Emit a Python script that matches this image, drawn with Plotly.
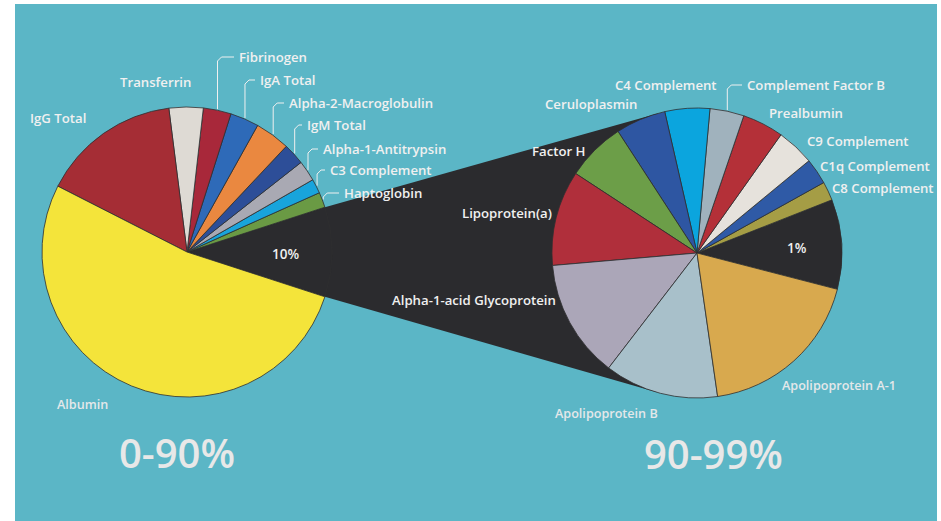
import math
import plotly.graph_objects as go

W, H = 941, 521

# ---- data: share of total serum protein mass (%) ----
# first pie: proteins making up the first 90%, plus the remaining 10%
major_labels = ["Remaining proteins", "Haptoglobin", "C3 Complement", "Alpha-1-Antitrypsin",
                "IgM Total", "Alpha-2-Macroglobulin", "IgA Total", "Fibrinogen",
                "Transferrin", "IgG Total", "Albumin"]
major_values = [10, 1.7, 1.6, 2.3, 2.4, 3.9, 3.2, 3.1, 3.8, 15.5, 52.5]
major_colors = ["#2b2b2e", "#6a9a44", "#18a4dc", "#a9a9b3", "#2d4e98", "#ea8840",
                "#2e6ab8", "#a8283a", "#dedad4", "#a52d35", "#f4e43a"]

# second pie: the next 9% (90-99%), plus the last 1%
minor_labels = ["Remaining proteins", "C8 Complement", "C1q Complement", "C9 Complement",
                "Prealbumin", "Complement Factor B", "C4 Complement", "Ceruloplasmin",
                "Factor H", "Lipoprotein(a)", "Alpha-1-acid Glycoprotein",
                "Apolipoprotein B", "Apolipoprotein A-1"]
minor_values = [1.0, 0.21, 0.29, 0.42, 0.46, 0.38, 0.5, 0.56, 0.66, 1.06, 1.32, 1.27, 1.87]
minor_colors = ["#2b2b2e", "#a59d45", "#2f5aa6", "#e6e2dc", "#b43038", "#a0b2bd",
                "#0ba5de", "#2e56a2", "#6c9e48", "#b02f3b", "#aba6b8", "#a8c0ca", "#d8a94e"]

pie_titles = ["0-90%", "90-99%"]

# ---- layout geometry (pixels, y downwards) ----
R = 145
LEFT_C = (187, 252)
RIGHT_C = (697, 253)
LEFT_REST_DIR = 0.0     # direction (deg, counterclockwise from 3 o'clock) of the remainder slice
RIGHT_REST_DIR = 3.5

TEAL = "#5bb6c6"
TEXT = "#f0f0f0"
FONT = "Open Sans"

# label anchors: (left x, centre y, with leader line, bold)
label_pos = {
    "IgG Total": (28, 118, False, True),
    "Transferrin": (118, 82, False, True),
    "Fibrinogen": (237, 57, True, True),
    "IgA Total": (258, 80, True, True),
    "Alpha-2-Macroglobulin": (287, 103, True, True),
    "IgM Total": (305, 125, True, True),
    "Alpha-1-Antitrypsin": (321, 149, True, True),
    "C3 Complement": (328, 170, True, True),
    "Haptoglobin": (342, 193, True, True),
    "Albumin": (55, 404, False, False),
    "Ceruloplasmin": (543, 104, False, True),
    "C4 Complement": (613, 85, False, True),
    "Complement Factor B": (745, 85, True, True),
    "Prealbumin": (767, 113, False, True),
    "C9 Complement": (805, 141, False, True),
    "C1q Complement": (818, 166, False, True),
    "C8 Complement": (830, 188, False, True),
    "Factor H": (530, 151, False, True),
    "Lipoprotein(a)": (460, 213, False, True),
    "Alpha-1-acid Glycoprotein": (390, 300, False, True),
    "Apolipoprotein A-1": (780, 385, False, False),
    "Apolipoprotein B": (553, 413, False, False),
}
rest_text_pos = [(285, 254), (797, 248)]
title_pos = [(177, 452), (713, 453)]


def slice_spans(values, rest_dir):
    """Math angles (deg) of each slice, first slice centred on rest_dir, going counterclockwise."""
    total = float(sum(values))
    k = 360.0 / total
    start = rest_dir - values[0] * k / 2
    spans, acc = [], 0.0
    for v in values:
        a0 = start + acc * k
        acc += v
        spans.append((a0, start + acc * k))
    return spans


def on_circle(c, r, deg):
    a = math.radians(deg)
    return (c[0] + r * math.cos(a), c[1] - r * math.sin(a))


def tangent_point(p, c, r, side):
    dx, dy = c[0] - p[0], c[1] - p[1]
    d = math.hypot(dx, dy)
    base = math.atan2(dy, dx)
    ang = base + side * math.asin(r / d)
    L = math.sqrt(d * d - r * r)
    return (p[0] + L * math.cos(ang), p[1] + L * math.sin(ang))


def domain(c):
    return dict(x=[(c[0] - R) / W, (c[0] + R) / W],
                y=[1 - (c[1] + R) / H, 1 - (c[1] - R) / H])


fig = go.Figure()

left_spans = slice_spans(major_values, LEFT_REST_DIR)
right_spans = slice_spans(minor_values, RIGHT_REST_DIR)

# ---- black band joining the remainder slice to the second pie ----
p_top = on_circle(LEFT_C, R, left_spans[0][1])
p_bot = on_circle(LEFT_C, R, left_spans[0][0])
t_top = tangent_point(p_top, RIGHT_C, R, -1)
t_bot = tangent_point(p_bot, RIGHT_C, R, +1)
band = [LEFT_C, p_top, t_top, RIGHT_C, t_bot, p_bot, LEFT_C]
fig.add_trace(go.Scatter(
    x=[q[0] for q in band], y=[q[1] for q in band], mode="lines",
    fill="toself", fillcolor=major_colors[0], line=dict(width=0),
    hoverinfo="skip", showlegend=False))

# ---- leader lines ----
all_spans = dict(zip(major_labels, [(LEFT_C, s) for s in left_spans]))
all_spans.update(dict(zip(minor_labels, [(RIGHT_C, s) for s in right_spans])))
for name, (lx, ly, leader, bold) in label_pos.items():
    if not leader:
        continue
    c, (a0, a1) = all_spans[name]
    sx, sy = on_circle(c, R + 1, (a0 + a1) / 2)
    xs = [sx, sx, sx + 4, lx - 3]
    ys = [sy, ly + 4, ly, ly]
    fig.add_trace(go.Scatter(x=xs, y=ys, mode="lines",
                             line=dict(color=TEXT, width=1),
                             hoverinfo="skip", showlegend=False))

# ---- the two pies ----
rot_left = 90 - (LEFT_REST_DIR + major_values[0] / sum(major_values) * 180)
rot_right = 90 - (RIGHT_REST_DIR + minor_values[0] / sum(minor_values) * 180)
for labels, values, colors, c, rot in [
        (major_labels, major_values, major_colors, LEFT_C, rot_left),
        (minor_labels, minor_values, minor_colors, RIGHT_C, rot_right)]:
    fig.add_trace(go.Pie(
        labels=labels, values=values, sort=False, direction="counterclockwise",
        rotation=rot, domain=domain(c), textinfo="none",
        marker=dict(colors=colors, line=dict(color="#2e2e30", width=0.8)),
        hoverinfo="label+value", showlegend=False))

# ---- text ----
ann = []
for name, (lx, ly, leader, bold) in label_pos.items():
    ann.append(dict(x=lx, y=ly, xref="x", yref="y", text=name, showarrow=False,
                    xanchor="left", yanchor="middle",
                    font=dict(family=FONT, size=13.2 if bold else 12.6,
                              color=TEXT if bold else "#e4e8ea", weight=600)))
for (x, y), v in zip(rest_text_pos, [major_values[0], minor_values[0]]):
    ann.append(dict(x=x, y=y, xref="x", yref="y", text=f"{v:g}%", showarrow=False,
                    font=dict(family=FONT, size=13.5, color=TEXT, weight=600)))
for (x, y), t in zip(title_pos, pie_titles):
    ann.append(dict(x=x, y=y, xref="x", yref="y", text=t, showarrow=False,
                    font=dict(family=FONT, size=40, color="#e8e8e8", weight=600)))

fig.update_layout(
    width=W, height=H, margin=dict(l=0, r=0, t=0, b=0),
    paper_bgcolor="white", plot_bgcolor="rgba(0,0,0,0)",
    xaxis=dict(range=[0, W], visible=False, fixedrange=True),
    yaxis=dict(range=[H, 0], visible=False, fixedrange=True),
    shapes=[dict(type="rect", xref="x", yref="y", x0=15, x1=937, y0=4, y1=H,
                 fillcolor=TEAL, line=dict(width=0), layer="below")],
    annotations=ann,
)

fig.write_html("out.html")
